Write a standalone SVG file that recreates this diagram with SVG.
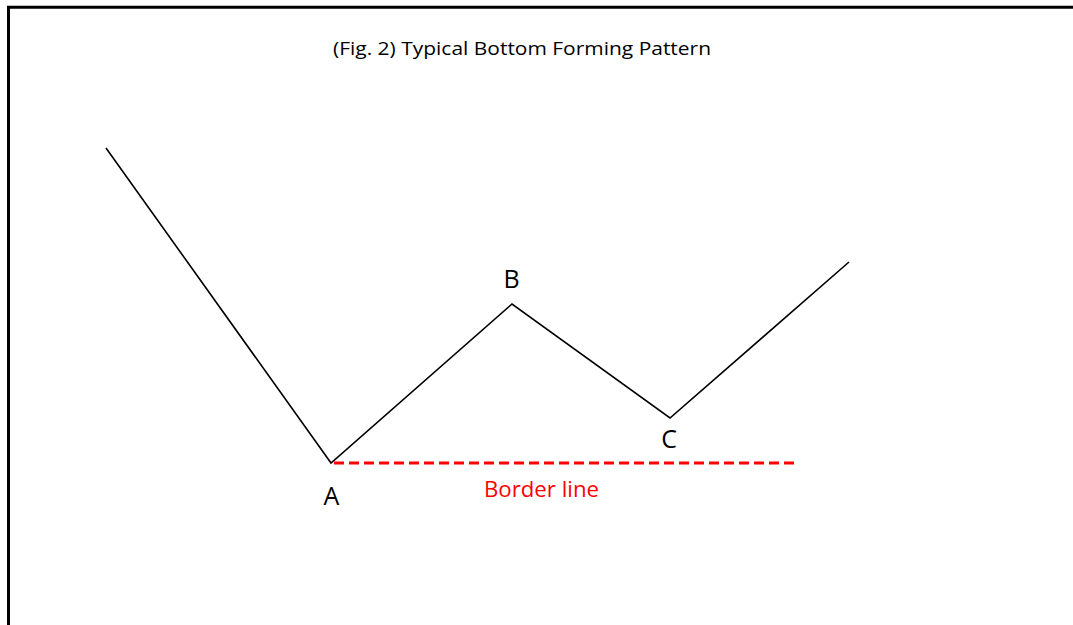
<svg xmlns="http://www.w3.org/2000/svg" width="1073" height="625" viewBox="0 0 1073 625">
<style>
.frame{stroke:#000;stroke-width:3;fill:none}
.price{stroke:#000;stroke-width:1.6;fill:none;stroke-linejoin:miter}
.border{stroke:#ff0000;stroke-width:3;stroke-dasharray:10 5;fill:none}
.lbl{font-family:"Open Sans","Noto Sans",sans-serif;font-size:25px;fill:#000;text-anchor:middle}
.title{font-family:"Open Sans","Noto Sans",sans-serif;font-size:19px;fill:#000}
.red{font-family:"Open Sans","Noto Sans",sans-serif;font-size:22px;fill:#ff0000}
</style>
<rect width="1073" height="625" fill="#fff"/>
<path class="frame" d="M8.5 625 V7.3 H1073"/>
<text class="title" x="333" y="55" textLength="378" lengthAdjust="spacingAndGlyphs">(Fig. 2) Typical Bottom Forming Pattern</text>
<g id="connectors">
<polyline class="price" points="106,148 331,463 512,304 670,418 849,262"/>
<line class="border" x1="334" y1="463" x2="795" y2="463"/>
</g>
<g id="A"><text class="lbl" x="331.5" y="505">A</text></g>
<g id="B"><text class="lbl" x="511.5" y="288">B</text></g>
<g id="C"><text class="lbl" x="669" y="448">C</text></g>
<g id="border-label"><text class="red" x="484" y="497" textLength="115" lengthAdjust="spacingAndGlyphs">Border line</text></g>
</svg>
